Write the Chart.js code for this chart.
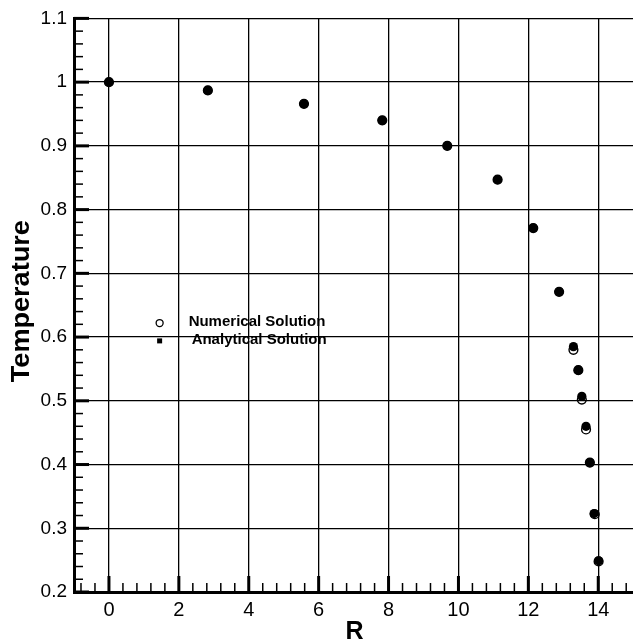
<!DOCTYPE html>
<html>
<head>
<meta charset="utf-8">
<script src="https://cdn.jsdelivr.net/npm/chart.js@4"></script>
<style>
  html, body { margin: 0; padding: 0; background: #fff; overflow: hidden; }
  #wrap { width: 633px; height: 643px; overflow: hidden; }
  canvas { display: block; }
</style>
</head>
<body>
<div id="wrap"><canvas id="tempChart" width="639" height="643"></canvas></div>
<script>
// values
const radius = [0, 2.83, 5.58, 7.82, 9.68, 11.12, 12.14, 12.88, 13.29, 13.43, 13.53, 13.65, 13.76, 13.88, 14.01];
const tempAnalytical = [1.0, 0.987, 0.966, 0.940, 0.900, 0.847, 0.771, 0.671, 0.585, 0.548, 0.507, 0.460, 0.403, 0.323, 0.249];
const radiusNumerical = [0, 2.83, 5.58, 7.82, 9.68, 11.12, 12.14, 12.88, 13.29, 13.43, 13.53, 13.65, 13.76, 13.90, 14.01];
const tempNumerical = [1.0, 0.987, 0.966, 0.940, 0.900, 0.847, 0.771, 0.671, 0.580, 0.548, 0.502, 0.455, 0.403, 0.322, 0.248];

const xTicks = [0, 2, 4, 6, 8, 10, 12, 14];
const yTicks = [0.2, 0.3, 0.4, 0.5, 0.6, 0.7, 0.8, 0.9, 1.0, 1.1];
const legendLabels = ['Numerical Solution', 'Analytical Solution'];

const FONT = "'Liberation Sans', Arial, Helvetica, sans-serif";
Chart.defaults.font.family = FONT;
Chart.defaults.color = '#000';

function line(ctx, x1, y1, x2, y2, w) {
  ctx.lineWidth = w;
  ctx.beginPath();
  ctx.moveTo(x1, y1);
  ctx.lineTo(x2, y2);
  ctx.stroke();
}

// inner tick marks, axis titles and the in-plot legend
const decor = {
  id: 'decor',
  afterDraw(chart) {
    const { ctx, chartArea: a, scales: { x, y } } = chart;
    ctx.save();
    ctx.strokeStyle = '#000';
    ctx.fillStyle = '#000';

    // minor x ticks every 0.4
    for (let k = -2; k <= 37; k++) {
      const v = k * 0.4;
      if (v <= -1 || v >= 15) continue;
      if (Math.abs(v / 2 - Math.round(v / 2)) < 1e-6) continue;
      const px = x.getPixelForValue(v);
      line(ctx, px, a.bottom, px, a.bottom - 9, 1.5);
    }
    xTicks.forEach(v => {
      const px = x.getPixelForValue(v);
      line(ctx, px, a.bottom, px, a.bottom - 16, 3);
    });

    // minor y ticks every 0.02
    for (let k = 11; k <= 54; k++) {
      if (k % 5 === 0) continue;
      const py = y.getPixelForValue(k * 0.02);
      line(ctx, a.left, py, a.left + 9, py, 1.5);
    }
    yTicks.forEach(v => {
      const py = y.getPixelForValue(v);
      line(ctx, a.left, py, a.left + 15, py, 3);
    });

    // axis titles
    ctx.font = 'bold 25px ' + FONT;
    ctx.textAlign = 'center';
    ctx.textBaseline = 'middle';
    ctx.fillText('R', (a.left + a.right) / 2 + 1, 632);
    ctx.save();
    ctx.translate(22, (a.top + a.bottom) / 2 - 4);
    ctx.rotate(-Math.PI / 2);
    const tw = ctx.measureText('Temperature').width;
    ctx.scale(162 / tw, 1);
    ctx.fillText('Temperature', 0, 0);
    ctx.restore();

    // legend
    const lx = x.getPixelForValue(1.45);
    const rows = [y.getPixelForValue(0.622), y.getPixelForValue(0.594)];
    ctx.font = 'bold 15px ' + FONT;
    ctx.textAlign = 'left';
    ctx.textBaseline = 'middle';
    ctx.beginPath();
    ctx.lineWidth = 1.3;
    ctx.arc(lx, rows[0], 3.5, 0, Math.PI * 2);
    ctx.stroke();
    ctx.fillRect(lx - 2.5, rows[1] - 2.5, 5, 5);
    ctx.fillText(legendLabels[0], lx + 29, rows[0] - 1);
    ctx.fillText(legendLabels[1], lx + 32, rows[1] - 1);
    ctx.restore();
  }
};

const ctx = document.getElementById('tempChart').getContext('2d');
new Chart(ctx, {
  type: 'scatter',
  data: {
    datasets: [
      {
        label: legendLabels[1],
        data: radius.map((r, i) => ({ x: r, y: tempAnalytical[i] })),
        pointStyle: 'circle',
        pointRadius: 4.6,
        backgroundColor: '#000',
        borderColor: '#000',
        borderWidth: 0,
        order: 2
      },
      {
        label: legendLabels[0],
        data: radiusNumerical.map((r, i) => ({ x: r, y: tempNumerical[i] })),
        pointStyle: 'circle',
        pointRadius: 4.4,
        backgroundColor: 'rgba(0,0,0,0)',
        borderColor: '#000',
        borderWidth: 1.4,
        order: 1
      }
    ]
  },
  options: {
    responsive: false,
    animation: false,
    devicePixelRatio: 1,
    layout: { padding: { top: 16.5, right: 0, left: 0, bottom: 0 } },
    plugins: {
      legend: { display: false },
      tooltip: { enabled: false }
    },
    scales: {
      x: {
        type: 'linear',
        min: -1,
        max: 15,
        afterBuildTicks: s => { s.ticks = xTicks.map(v => ({ value: v })); },
        afterFit: s => { s.height = 51; },
        ticks: {
          padding: 6,
          font: { size: 20 },
          color: '#000',
          maxRotation: 0,
          callback: v => String(v)
        },
        grid: { color: '#000', lineWidth: 1.3, drawTicks: false },
        border: { display: true, color: '#000', width: 3 }
      },
      y: {
        type: 'linear',
        min: 0.2,
        max: 1.1,
        afterBuildTicks: s => { s.ticks = yTicks.map(v => ({ value: v })); },
        afterFit: s => { s.width = 74; },
        ticks: {
          padding: 7,
          font: { size: 19 },
          color: '#000',
          callback: v => String(Math.round(v * 10) / 10)
        },
        grid: { color: '#000', lineWidth: 1.3, drawTicks: false },
        border: { display: true, color: '#000', width: 3 }
      }
    }
  },
  plugins: [decor]
});
</script>
</body>
</html>
